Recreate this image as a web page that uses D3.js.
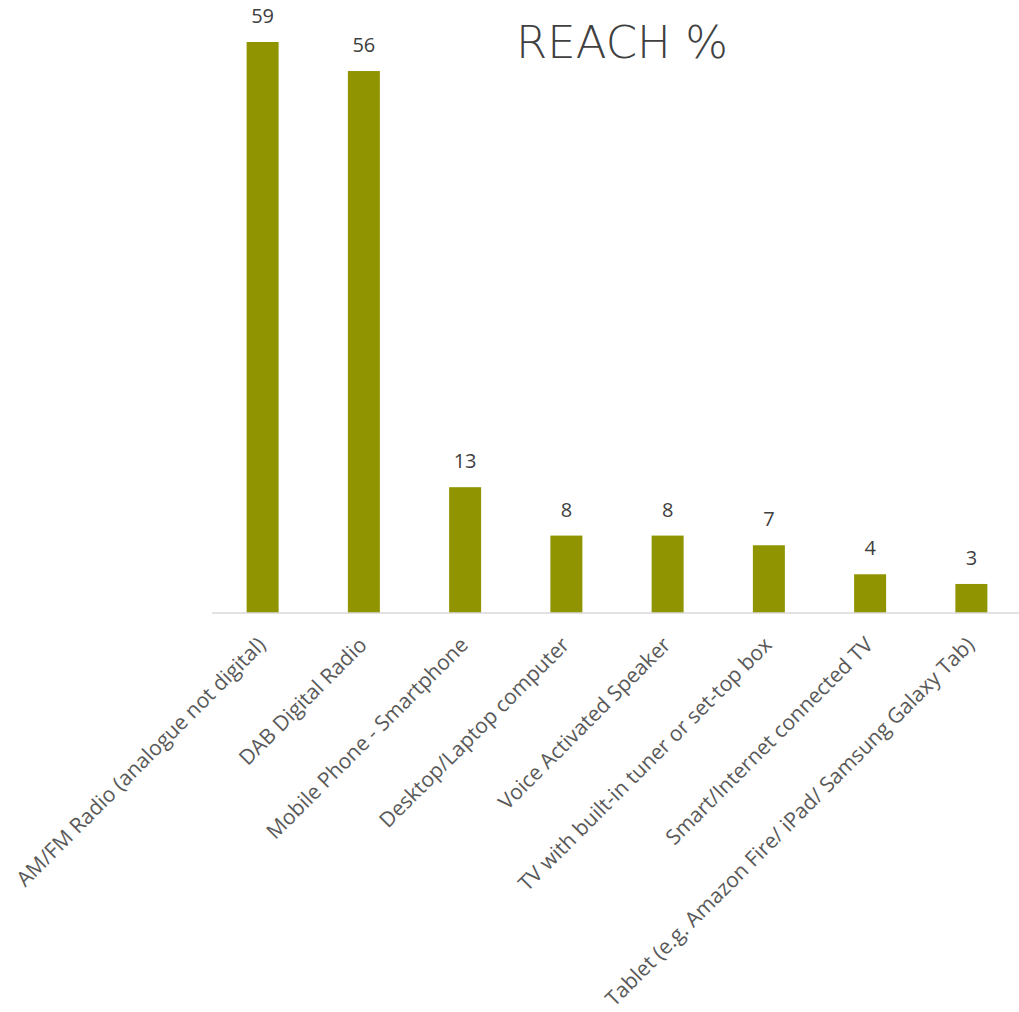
<!DOCTYPE html>
<html>
<head>
<meta charset="utf-8">
<script src="https://cdn.jsdelivr.net/npm/d3@7"></script>
<style>
  html, body { margin: 0; padding: 0; background: #ffffff; }
  svg { display: block; }
</style>
</head>
<body>
<svg id="chart" width="1019" height="1012"></svg>
<script>
// Reach % by listening device
const devices = [
  "AM/FM Radio (analogue not digital)",
  "DAB Digital Radio",
  "Mobile Phone - Smartphone",
  "Desktop/Laptop computer",
  "Voice Activated Speaker",
  "TV with built-in tuner or set-top box",
  "Smart/Internet connected TV",
  "Tablet (e.g. Amazon Fire/ iPad/ Samsung Galaxy Tab)"
];
const reach = [59, 56, 13, 8, 8, 7, 4, 3];
const titleText = "REACH %";

const svg = d3.select("#chart");

const baseY = 613;
const x = d3.scaleBand()
  .domain(devices)
  .range([212, 1022])
  .paddingInner(0.684)
  .paddingOuter(0.342);

const y = d3.scaleLinear()
  .domain([0, 59])
  .range([baseY, 42]);

// bars
svg.append("g")
  .selectAll("rect")
  .data(devices)
  .join("rect")
  .attr("x", d => x(d))
  .attr("y", (d, i) => y(reach[i]))
  .attr("width", x.bandwidth())
  .attr("height", (d, i) => baseY - y(reach[i]))
  .attr("fill", "#8f9400");

// value labels
svg.append("g")
  .selectAll("text")
  .data(devices)
  .join("text")
  .attr("x", d => x(d) + x.bandwidth() / 2)
  .attr("y", (d, i) => y(reach[i]) - 19)
  .attr("text-anchor", "middle")
  .attr("font-family", "'Open Sans', sans-serif")
  .attr("font-size", 20)
  .attr("fill", "#404040")
  .text((d, i) => d3.format("d")(reach[i]));

// category axis
const xAxis = d3.axisBottom(x).tickSize(0).tickPadding(0);
const gx = svg.append("g")
  .attr("transform", `translate(0,${baseY})`)
  .call(xAxis);
gx.select(".domain")
  .attr("d", `M212,0H1022`)
  .attr("stroke", "#d9d9d9")
  .attr("stroke-width", 1.5);
gx.selectAll(".tick text")
  .attr("font-family", "'Open Sans', sans-serif")
  .attr("font-size", 21)
  .attr("fill", "#595959")
  .attr("text-anchor", "end")
  .attr("dy", "0.35em")
  .attr("transform", "translate(-1,28) rotate(-45)")
  .attr("y", 0)
  .attr("x", 0);

// title
svg.append("text")
  .attr("x", 622)
  .attr("y", 58)
  .attr("text-anchor", "middle")
  .attr("font-family", "'DejaVu Sans', sans-serif")
  .attr("font-weight", 200)
  .attr("font-size", 45)
  .attr("fill", "#404040")
  .text(titleText);
</script>
</body>
</html>
